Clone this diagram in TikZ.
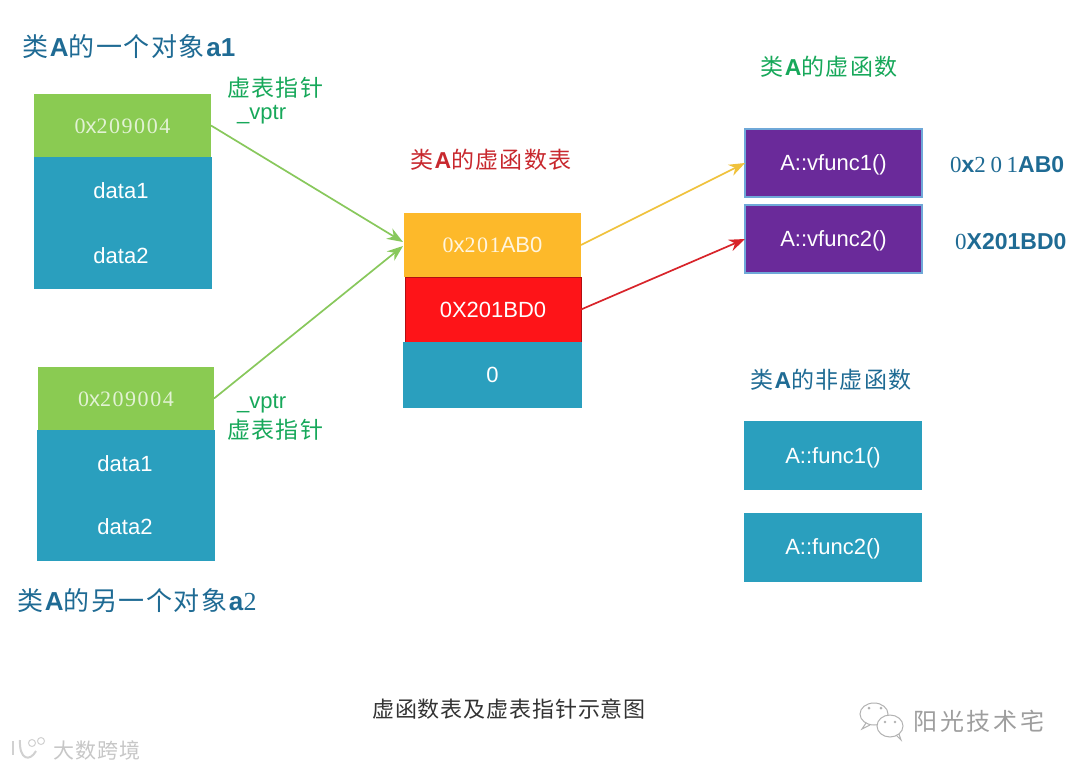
\documentclass[tikz,border=0pt]{standalone}
\usepackage{fontspec}
\setmainfont{Liberation Sans}
\newfontfamily\cjk{Noto Sans CJK SC}
\newfontfamily\cjka[LetterSpace=6]{Noto Sans CJK SC}
\newfontfamily\cjkb[LetterSpace=12]{Noto Sans CJK SC}
\newfontfamily\cjkc[LetterSpace=4]{Noto Sans CJK SC}
\newfontfamily\srf[LetterSpace=7]{Liberation Serif}
\newfontfamily\srfw[LetterSpace=20]{Liberation Serif}
\usetikzlibrary{arrows.meta}
\definecolor{teal1}{HTML}{2A9FBE}
\definecolor{green1}{HTML}{8ACB52}
\definecolor{orange1}{HTML}{FDB92A}
\definecolor{red1}{HTML}{FE1418}
\definecolor{purple1}{HTML}{6A2A9A}
\definecolor{edge1}{HTML}{6FA8D8}
\definecolor{title1}{HTML}{1F6B94}
\definecolor{title2}{HTML}{17A85A}
\definecolor{title3}{HTML}{C8282E}
\definecolor{arrowg}{HTML}{88C85C}
\definecolor{arrowo}{HTML}{F0C23C}
\definecolor{arrowr}{HTML}{D8242A}
\tikzset{
  x=1pt,y=-1pt,
  cell/.style={minimum width=#1,inner sep=0pt,outer sep=0pt,text=white,text height=15pt,text depth=0pt,font=\fontsize{22}{24}\selectfont},
  tealcell/.style={cell=178pt,fill=teal1},
  hdr/.style={cell=177pt,fill=green1,minimum height=64pt,text=white!75!green1},
  celltxt/.style={text=white,inner sep=0pt,text height=15pt,text depth=0pt,font=\fontsize{22}{24}\selectfont},
  ptr/.style={-{Stealth[length=16pt,width=12pt]},line width=1.7pt},
  ttl/.style={inner sep=0pt,font=\fontsize{26}{30}\selectfont},
  subttl/.style={inner sep=0pt,font=\fontsize{23}{28}\selectfont},
  ptrzh/.style={text=title2,inner sep=0pt,font=\cjka\fontsize{23}{27}\selectfont,anchor=west},
  ptren/.style={text=title2,inner sep=0pt,font=\fontsize{22}{26}\selectfont,anchor=west},
  addr/.style={inner sep=0pt,text=title1,font=\fontsize{23}{26}\selectfont\bfseries,anchor=west},
  mark1/.style={inner sep=0pt,text=black!80,font=\cjkc\fontsize{22}{26}\selectfont},
  wmline/.style={draw=black!30,line width=1pt}
}
\newcommand{\zh}[1]{{\cjka #1}}
\newcommand{\sr}[1]{{\srf #1}}
\newcommand{\srw}[1]{{\mdseries\srfw #1}}
\begin{document}
\begin{tikzpicture}
\useasboundingbox[fill=white] (0,0) rectangle (1080,769);
% object a1
\node[hdr] (a1h) at (122.5,125.5) {\sr{0}x\sr{209004}};
\node[tealcell,minimum height=132pt] (a1b) at (122.5,223) {};
\node[celltxt] (a1d1) at (121,190.5) {data1};
\node[celltxt] (a1d2) at (121,255.5) {data2};
\node[ttl,text=title1,anchor=west] (a1t) at (22,47) {\zh{类}\textbf{A}\zh{的一个对象}\textbf{a1}};
\node[ptrzh] (p1a) at (227,88) {虚表指针};
\node[ptren] (p1b) at (237,115) {\_vptr};
% object a2
\node[hdr,minimum width=176pt] (a2h) at (126,398.5) {\sr{0}x\sr{209004}};
\node[tealcell,minimum height=131pt] (a2b) at (126,495.5) {};
\node[celltxt] (a2d1) at (125,464) {data1};
\node[celltxt] (a2d2) at (125,527) {data2};
\node[ttl,text=title1,anchor=west] (a2t) at (17,601) {\zh{类}\textbf{A}\zh{的另一个对象}\textbf{a}\sr{2}};
\node[ptren] (p2b) at (237,404) {\_vptr};
\node[ptrzh] (p2a) at (227,430) {虚表指针};
% table
\node[subttl,text=title3] (vtt) at (491,160) {\zh{类}\textbf{A}\zh{的虚函数表}};
\node[cell=177pt,fill=orange1,minimum height=64pt,text=white!85!orange1] (v1) at (492.5,245) {\sr{0}x\sr{201}AB0};
\node[cell=176pt,fill=red1,draw=black!30!red1,line width=.8pt,minimum height=65pt] (v2) at (493,309.5) {0X201BD0};
\node[tealcell,minimum width=179pt,minimum height=66pt] (v3) at (492.5,375) {0};
% virtual functions
\node[subttl,text=title2] (vft) at (829,67) {\zh{类}\textbf{A}\zh{的虚函数}};
\node[cell=177pt,fill=purple1,draw=edge1,line width=1.4pt,minimum height=68pt] (f1) at (833.5,163) {A::vfunc1()};
\node[cell=177pt,fill=purple1,draw=edge1,line width=1.4pt,minimum height=68pt] (f2) at (833.5,239) {A::vfunc2()};
\node[addr] (ad1) at (950,165) {\srw{0}x\srw{201}AB0};
\node[addr] (ad2) at (955,242) {\srw{0}X201BD0};
% non-virtual functions
\node[subttl,text=title1] (nvt) at (831,380) {\zh{类}\textbf{A}\zh{的非虚函数}};
\node[tealcell,minimum height=69pt] (g1) at (833,455.5) {A::func1()};
\node[tealcell,minimum height=69pt] (g2) at (833,547) {A::func2()};
% connectors
\coordinate (tgt1) at (403,242);
\coordinate (tgt2) at (403,246);
\draw[ptr,arrowg] (a1h.east) -- (tgt1);
\draw[ptr,arrowg] (a2h.east) -- (tgt2);
\draw[ptr,arrowo] (v1.east) -- (f1.west);
\draw[ptr,arrowr] (v2.east) -- (f2.west);
% caption
\node[mark1] (cap) at (509,709) {虚函数表及虚表指针示意图};
% watermark: WeChat
\draw[wmline] (874,714) circle (14pt and 11pt);
\draw[fill=white,wmline] (890,726) circle (13pt and 11pt);
\fill[black!30] (869,708) circle (1.5pt) (881,708) circle (1.5pt) (885,722) circle (1.3pt) (895,722) circle (1.3pt);
\draw[wmline] (866,723) -- (862,729) -- (870,725);
\draw[wmline] (896,735) -- (901,740) -- (899,734);
\node[inner sep=0pt,text=black!38,font=\cjkb\fontsize{24}{28}\selectfont] (wm1) at (979,721) {阳光技术宅};
% watermark: site
\draw[wmline,black!18,line width=2pt] (13,741) -- (13,755);
\draw[wmline,black!18,line width=2pt] (20,740) .. controls (19,760) and (30,762) .. (36,751);
\draw[wmline,black!18] (32,743) circle (3.5pt) (41,741) circle (3.5pt);
\node[inner sep=0pt,text=black!22,font=\cjkc\fontsize{21}{26}\selectfont] (wm2) at (97,750) {大数跨境};
\end{tikzpicture}
\end{document}
